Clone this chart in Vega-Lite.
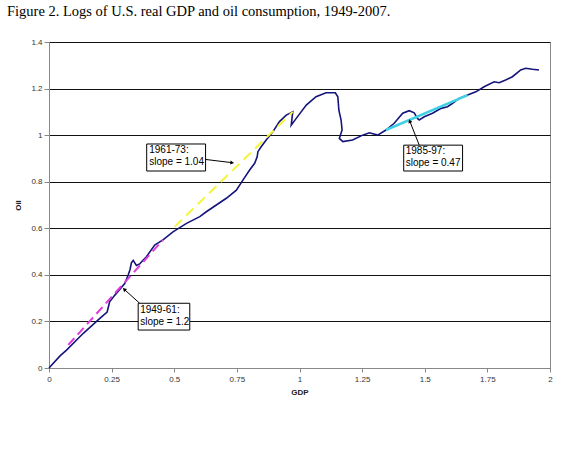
{
  "$schema": "https://vega.github.io/schema/vega-lite/v6.json",
  "autosize": {"type": "none"},
  "padding": {"left": 49, "top": 42, "right": 20, "bottom": 93},
  "width": 501,
  "height": 326,
  "background": "white",
  "title": {
    "text": "Figure 2. Logs of U.S. real GDP and oil consumption, 1949-2007.",
    "anchor": "start",
    "frame": "group",
    "dx": -42,
    "offset": 19,
    "font": "Liberation Serif",
    "fontSize": 14.5,
    "fontWeight": "normal",
    "color": "#000"
  },
  "config": {
    "view": {"stroke": "#888", "strokeWidth": 1},
    "axis": {
      "domainColor": "#888",
      "tickColor": "#888",
      "labelFont": "Liberation Sans",
      "labelFontSize": 8,
      "labelColor": "#333",
      "titleFont": "Liberation Sans",
      "titleFontSize": 8,
      "titleFontWeight": "bold",
      "titleColor": "#222"
    }
  },
  "datasets": {
    "curve": [
      {"i": 0, "gdp": 0, "oil": 0},
      {"i": 1, "gdp": 0.044, "oil": 0.052},
      {"i": 2, "gdp": 0.070, "oil": 0.077},
      {"i": 3, "gdp": 0.137, "oil": 0.149},
      {"i": 4, "gdp": 0.203, "oil": 0.213},
      {"i": 5, "gdp": 0.232, "oil": 0.240},
      {"i": 6, "gdp": 0.237, "oil": 0.262},
      {"i": 7, "gdp": 0.242, "oil": 0.284},
      {"i": 8, "gdp": 0.263, "oil": 0.313},
      {"i": 9, "gdp": 0.303, "oil": 0.364},
      {"i": 10, "gdp": 0.316, "oil": 0.399},
      {"i": 11, "gdp": 0.323, "oil": 0.421},
      {"i": 12, "gdp": 0.329, "oil": 0.452},
      {"i": 13, "gdp": 0.336, "oil": 0.462},
      {"i": 14, "gdp": 0.349, "oil": 0.440},
      {"i": 15, "gdp": 0.362, "oil": 0.447},
      {"i": 16, "gdp": 0.376, "oil": 0.464},
      {"i": 17, "gdp": 0.389, "oil": 0.478},
      {"i": 18, "gdp": 0.422, "oil": 0.528},
      {"i": 19, "gdp": 0.455, "oil": 0.550},
      {"i": 20, "gdp": 0.495, "oil": 0.585},
      {"i": 21, "gdp": 0.549, "oil": 0.621},
      {"i": 22, "gdp": 0.602, "oil": 0.650},
      {"i": 23, "gdp": 0.628, "oil": 0.671},
      {"i": 24, "gdp": 0.708, "oil": 0.729},
      {"i": 25, "gdp": 0.748, "oil": 0.764},
      {"i": 26, "gdp": 0.774, "oil": 0.807},
      {"i": 27, "gdp": 0.801, "oil": 0.850},
      {"i": 28, "gdp": 0.821, "oil": 0.879},
      {"i": 29, "gdp": 0.831, "oil": 0.907},
      {"i": 30, "gdp": 0.834, "oil": 0.929},
      {"i": 31, "gdp": 0.847, "oil": 0.950},
      {"i": 32, "gdp": 0.867, "oil": 0.979},
      {"i": 33, "gdp": 0.894, "oil": 1.015},
      {"i": 34, "gdp": 0.920, "oil": 1.058},
      {"i": 35, "gdp": 0.947, "oil": 1.086},
      {"i": 36, "gdp": 0.973, "oil": 1.100},
      {"i": 37, "gdp": 0.967, "oil": 1.043},
      {"i": 38, "gdp": 0.987, "oil": 1.072},
      {"i": 39, "gdp": 1.027, "oil": 1.129},
      {"i": 40, "gdp": 1.066, "oil": 1.165},
      {"i": 41, "gdp": 1.106, "oil": 1.182},
      {"i": 42, "gdp": 1.143, "oil": 1.182},
      {"i": 43, "gdp": 1.153, "oil": 1.165},
      {"i": 44, "gdp": 1.157, "oil": 1.108},
      {"i": 45, "gdp": 1.166, "oil": 1.065},
      {"i": 46, "gdp": 1.170, "oil": 1.022},
      {"i": 47, "gdp": 1.159, "oil": 0.986},
      {"i": 48, "gdp": 1.173, "oil": 0.972},
      {"i": 49, "gdp": 1.212, "oil": 0.979},
      {"i": 50, "gdp": 1.252, "oil": 1.000},
      {"i": 51, "gdp": 1.279, "oil": 1.010},
      {"i": 52, "gdp": 1.312, "oil": 1.000},
      {"i": 53, "gdp": 1.345, "oil": 1.022},
      {"i": 54, "gdp": 1.378, "oil": 1.051},
      {"i": 55, "gdp": 1.412, "oil": 1.094},
      {"i": 56, "gdp": 1.438, "oil": 1.105},
      {"i": 57, "gdp": 1.458, "oil": 1.096},
      {"i": 58, "gdp": 1.471, "oil": 1.072},
      {"i": 59, "gdp": 1.478, "oil": 1.065},
      {"i": 60, "gdp": 1.498, "oil": 1.079},
      {"i": 61, "gdp": 1.531, "oil": 1.094},
      {"i": 62, "gdp": 1.565, "oil": 1.115},
      {"i": 63, "gdp": 1.591, "oil": 1.122},
      {"i": 64, "gdp": 1.611, "oil": 1.137},
      {"i": 65, "gdp": 1.637, "oil": 1.158},
      {"i": 66, "gdp": 1.671, "oil": 1.172},
      {"i": 67, "gdp": 1.704, "oil": 1.186},
      {"i": 68, "gdp": 1.737, "oil": 1.208},
      {"i": 69, "gdp": 1.777, "oil": 1.229},
      {"i": 70, "gdp": 1.797, "oil": 1.225},
      {"i": 71, "gdp": 1.823, "oil": 1.237},
      {"i": 72, "gdp": 1.850, "oil": 1.251},
      {"i": 73, "gdp": 1.883, "oil": 1.280},
      {"i": 74, "gdp": 1.903, "oil": 1.287},
      {"i": 75, "gdp": 1.930, "oil": 1.283},
      {"i": 76, "gdp": 1.956, "oil": 1.280}
    ],
    "trends": [
      {"period": "1949-61", "gdp": 0.077, "oil": 0.099},
      {"period": "1949-61", "gdp": 0.455, "oil": 0.550},
      {"period": "1961-73", "gdp": 0.502, "oil": 0.607},
      {"period": "1961-73", "gdp": 0.973, "oil": 1.100},
      {"period": "1985-97", "gdp": 1.345, "oil": 1.022},
      {"period": "1985-97", "gdp": 1.671, "oil": 1.172}
    ],
    "notes": [
      {"period": "1961-73", "label": "1961-73:\nslope = 1.04", "x1": 0.390, "x2": 0.625, "y1": 0.846, "y2": 0.962, "tx": 0.400, "ty": 0.956, "ax": 0.622, "ay": 0.896, "hx": 0.729, "hy": 0.882},
      {"period": "1949-61", "label": "1949-61:\nslope = 1.2", "x1": 0.356, "x2": 0.562, "y1": 0.163, "y2": 0.278, "tx": 0.364, "ty": 0.272, "ax": 0.363, "ay": 0.277, "hx": 0.302, "hy": 0.336},
      {"period": "1985-97", "label": "1985-97:\nslope = 0.47", "x1": 1.416, "x2": 1.651, "y1": 0.846, "y2": 0.957, "tx": 1.424, "ty": 0.952, "ax": 1.478, "ay": 0.957, "hx": 1.441, "hy": 1.058}
    ]
  },
  "layer": [
    {
      "data": {"name": "curve"},
      "mark": {"type": "line", "color": "#14147a", "strokeWidth": 1.6},
      "encoding": {
        "x": {"field": "gdp", "type": "quantitative", "scale": {"domain": [0, 2], "nice": false},
          "axis": {"title": "GDP", "values": [0, 0.25, 0.5, 0.75, 1, 1.25, 1.5, 1.75, 2], "format": ".2~f", "grid": false, "tickSize": 4, "labelPadding": 3, "titlePadding": 5, "labelFlush": false}},
        "y": {"field": "oil", "type": "quantitative", "scale": {"domain": [0, 1.4], "nice": false},
          "axis": {"title": "Oil", "values": [0, 0.2, 0.4, 0.6, 0.8, 1, 1.2, 1.4], "format": ".1~f", "grid": true, "gridColor": "#111", "gridOpacity": 1, "gridWidth": 1, "tickSize": 5, "labelPadding": 2, "titlePadding": 8, "labelFlush": false}},
        "order": {"field": "i", "type": "quantitative"}
      }
    },
    {
      "data": {"name": "trends"},
      "transform": [{"filter": "datum.period === '1949-61'"}],
      "mark": {"type": "line", "color": "#dd3ddd", "strokeWidth": 2, "strokeDash": [9, 5]},
      "encoding": {"x": {"field": "gdp", "type": "quantitative"}, "y": {"field": "oil", "type": "quantitative"}}
    },
    {
      "data": {"name": "trends"},
      "transform": [{"filter": "datum.period === '1961-73'"}],
      "mark": {"type": "line", "color": "#f5f53a", "strokeWidth": 2, "strokeDash": [10, 6]},
      "encoding": {"x": {"field": "gdp", "type": "quantitative"}, "y": {"field": "oil", "type": "quantitative"}}
    },
    {
      "data": {"name": "trends"},
      "transform": [{"filter": "datum.period === '1985-97'"}],
      "mark": {"type": "line", "color": "#3fd0e6", "strokeWidth": 2.5},
      "encoding": {"x": {"field": "gdp", "type": "quantitative"}, "y": {"field": "oil", "type": "quantitative"}}
    },
    {
      "data": {"name": "notes"},
      "mark": {"type": "rule", "color": "#000", "strokeWidth": 1},
      "encoding": {
        "x": {"field": "ax", "type": "quantitative"}, "y": {"field": "ay", "type": "quantitative"},
        "x2": {"field": "hx"}, "y2": {"field": "hy"}
      }
    },
    {
      "data": {"name": "notes"},
      "transform": [{"filter": "datum.period === '1961-73'"}],
      "mark": {"type": "point", "shape": "triangle", "filled": true, "color": "#000", "size": 18, "angle": 96, "opacity": 1},
      "encoding": {"x": {"field": "hx", "type": "quantitative"}, "y": {"field": "hy", "type": "quantitative"}}
    },
    {
      "data": {"name": "notes"},
      "transform": [{"filter": "datum.period === '1949-61'"}],
      "mark": {"type": "point", "shape": "triangle", "filled": true, "color": "#000", "size": 18, "angle": 312, "opacity": 1},
      "encoding": {"x": {"field": "hx", "type": "quantitative"}, "y": {"field": "hy", "type": "quantitative"}}
    },
    {
      "data": {"name": "notes"},
      "transform": [{"filter": "datum.period === '1985-97'"}],
      "mark": {"type": "point", "shape": "triangle", "filled": true, "color": "#000", "size": 18, "angle": 338, "opacity": 1},
      "encoding": {"x": {"field": "hx", "type": "quantitative"}, "y": {"field": "hy", "type": "quantitative"}}
    },
    {
      "data": {"name": "notes"},
      "mark": {"type": "rect", "fill": "#fff", "stroke": "#000", "strokeWidth": 1},
      "encoding": {
        "x": {"field": "x1", "type": "quantitative"}, "x2": {"field": "x2"},
        "y": {"field": "y1", "type": "quantitative"}, "y2": {"field": "y2"}
      }
    },
    {
      "data": {"name": "notes"},
      "mark": {"type": "text", "align": "left", "baseline": "top", "font": "Liberation Sans", "fontSize": 10, "lineHeight": 12, "lineBreak": "\n", "color": "#000"},
      "encoding": {
        "x": {"field": "tx", "type": "quantitative"}, "y": {"field": "ty", "type": "quantitative"},
        "text": {"field": "label"}
      }
    }
  ]
}
